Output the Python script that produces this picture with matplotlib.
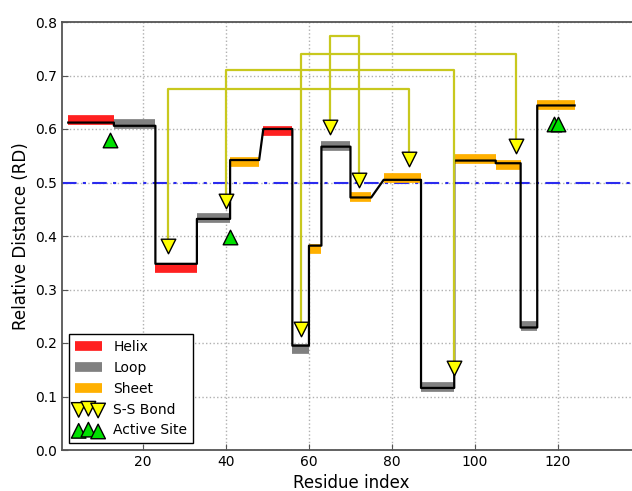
import matplotlib
matplotlib.use("Agg")
import matplotlib.pyplot as plt

# secondary structure segments (residue ranges) and relative distances
seg_start = [2, 13, 23, 33, 41, 49, 56, 60, 63, 70, 78, 87, 95, 105, 111, 115]
seg_end = [13, 23, 33, 41, 48, 56, 60, 63, 70, 75, 87, 95, 105, 111, 115, 124]
seg_type = ["Helix", "Loop", "Helix", "Loop", "Sheet", "Helix", "Loop", "Sheet",
            "Loop", "Sheet", "Sheet", "Loop", "Sheet", "Sheet", "Loop", "Sheet"]
band_rd = [0.616, 0.610, 0.340, 0.433, 0.538, 0.597, 0.189, 0.376,
           0.569, 0.473, 0.508, 0.117, 0.543, 0.533, 0.232, 0.645]
line_rd = [0.612, 0.606, 0.348, 0.432, 0.542, 0.600, 0.195, 0.382,
           0.567, 0.472, 0.505, 0.116, 0.541, 0.536, 0.229, 0.644]

# disulfide bonds
bond_a = [26, 40, 58, 65]
bond_b = [84, 95, 110, 72]
bond_a_rd = [0.382, 0.466, 0.227, 0.603]
bond_b_rd = [0.543, 0.154, 0.569, 0.505]
bond_top = [0.675, 0.710, 0.741, 0.773]

# active site residues
act_res = [12, 41, 119, 120]
act_rd = [0.580, 0.398, 0.610, 0.610]

colors = {"Helix": "#ff2020", "Loop": "#808080", "Sheet": "#ffb000"}

fig = plt.figure(figsize=(6.32, 4.91), dpi=100)
ax = fig.add_axes([62 / 632, 41 / 491, (641 - 62) / 632, 428 / 491])

# colored bands per segment
for s, e, t, v in zip(seg_start, seg_end, seg_type, band_rd):
    ax.plot([s, e], [v, v], color=colors[t], lw=7, solid_capstyle="butt", zorder=2)

# black profile line
xs, ys = [], []
for s, e, v in zip(seg_start, seg_end, line_rd):
    xs += [s, e]
    ys += [v, v]
ax.plot(xs, ys, color="black", lw=1.6, zorder=3)

ax.axhline(0.5, color="#2b2bee", lw=1.5, ls="-.", dashes=(7, 3, 1.5, 3), zorder=1)

# bond brackets
for a, b, ya, yb, top in zip(bond_a, bond_b, bond_a_rd, bond_b_rd, bond_top):
    ax.plot([a, a, b, b], [ya, top, top, yb], color="#c8c81e", lw=1.6, zorder=4)

ax.scatter(bond_a + bond_b, bond_a_rd + bond_b_rd, marker="v", s=110,
           c="#ffff00", edgecolors="black", linewidths=1, zorder=5, label="S-S Bond")
ax.scatter(act_res, act_rd, marker="^", s=110, c="#00e000",
           edgecolors="black", linewidths=1, zorder=5, label="Active Site")

# legend proxies
ax.plot([], [], color=colors["Helix"], lw=7, solid_capstyle="butt", label="Helix")
ax.plot([], [], color=colors["Loop"], lw=7, solid_capstyle="butt", label="Loop")
ax.plot([], [], color=colors["Sheet"], lw=7, solid_capstyle="butt", label="Sheet")
handles, labels = ax.get_legend_handles_labels()
order = ["Helix", "Loop", "Sheet", "S-S Bond", "Active Site"]
hmap = dict(zip(labels, handles))
leg = ax.legend([hmap[k] for k in order], order, loc="lower left", scatterpoints=3,
                scatteryoffsets=[0.375, 0.5, 0.3125], fancybox=False, framealpha=1,
                edgecolor="black", fontsize=10, borderaxespad=0.5, labelspacing=0.5,
                handletextpad=0.8)
leg.get_frame().set_linewidth(1.0)

ax.set_xlim(0.5, 140)
ax.set_ylim(0, 0.8)
ax.set_xticks([20, 40, 60, 80, 100, 120])
ax.set_yticks([0.0, 0.1, 0.2, 0.3, 0.4, 0.5, 0.6, 0.7, 0.8])
ax.grid(True, color="#b0b0b0", ls=":", lw=1)
ax.set_axisbelow(True)
ax.tick_params(direction="in", labelsize=10, length=4, color="#555555")
for sp in ax.spines.values():
    sp.set_color("#555555")
    sp.set_linewidth(1.3)

ax.set_xlabel("Residue index", fontsize=12)
ax.set_ylabel("Relative Distance (RD)", fontsize=12)

fig.savefig("out.png", dpi=100)
